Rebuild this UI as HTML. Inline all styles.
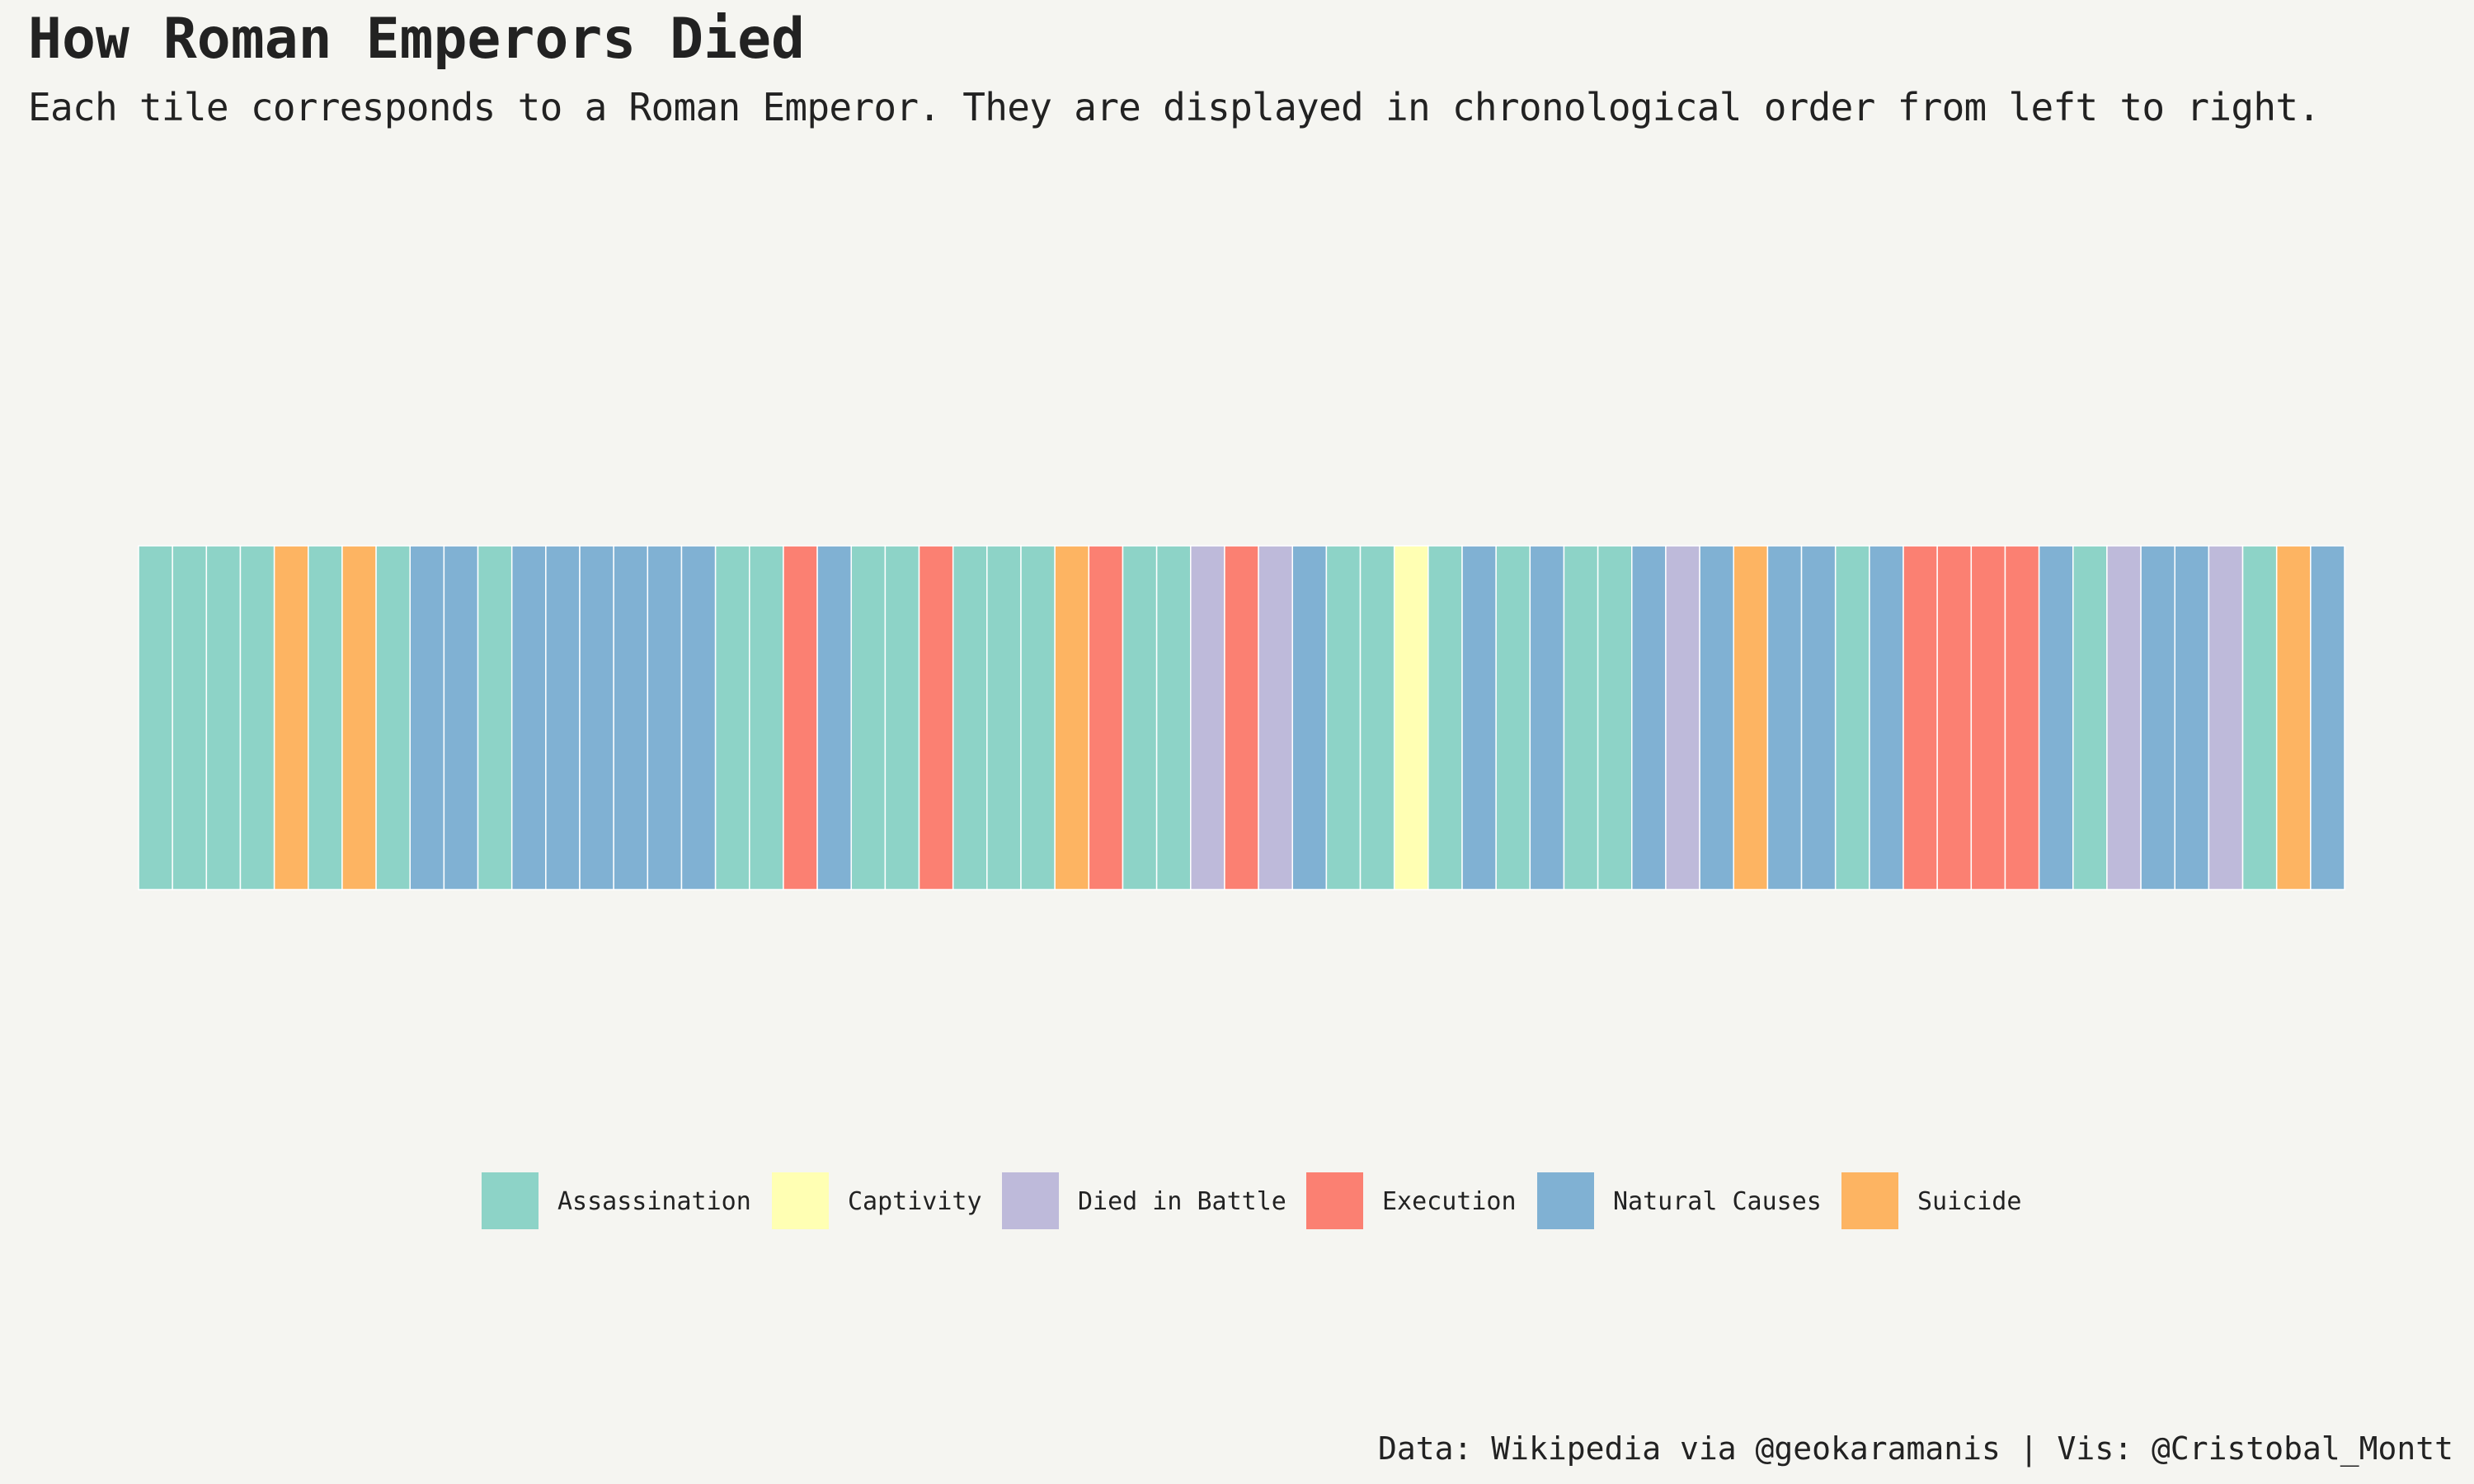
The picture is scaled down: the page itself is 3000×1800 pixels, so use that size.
<!DOCTYPE html>
<html><head><meta charset="utf-8"><style>
html,body{margin:0;padding:0;background:#f5f5f1;}
svg{display:block;font-family:"DejaVu Sans Mono","Liberation Mono",monospace;}
</style></head><body>
<svg id="chart" width="3000" height="1800" viewBox="0 0 3000 1800">
<rect x="0" y="0" width="3000" height="1800" fill="#f5f5f1"/>
<text x="34" y="70" font-size="68" font-weight="bold" fill="#222" textLength="942">How Roman Emperors Died</text>
<text x="34" y="146" font-size="46" fill="#222" textLength="2780">Each tile corresponds to a Roman Emperor. They are displayed in chronological order from left to right.</text>
<g id="tiles"></g>
<g id="legend"></g>
<text x="2975" y="1770" font-size="38" fill="#222" text-anchor="end">Data: Wikipedia via @geokaramanis | Vis: @Cristobal_Montt</text>
</svg>
<script>
const categories = ["Assassination","Captivity","Died in Battle","Execution","Natural Causes","Suicide"];
const causes = ["A","A","A","A","S","A","S","A","N","N","A","N","N","N","N","N","N",
"A","A","E","N","A","A","E","A","A","A","S","E","A","A","D","E","D",
"N","A","A","C","A","N","A","N","A","A","N","D","N","S","N","N","A","N","E","E","E","E","N","A","D","N","N","D","A","S","N"];
const codeMap = {A:"Assassination",C:"Captivity",D:"Died in Battle",E:"Execution",N:"Natural Causes",S:"Suicide"};
const colors = {"Assassination":"#8DD3C7","Captivity":"#FFFFB3","Died in Battle":"#BEBADA","Execution":"#FB8072","Natural Causes":"#80B1D3","Suicide":"#FDB462"};
const NS="http://www.w3.org/2000/svg";
const x0=168,x1=2843,y0=662,y1=1079;
const tw=(x1-x0)/causes.length;
const xScale=i=>x0+i*tw;
const tg=document.getElementById('tiles');
causes.forEach((c,i)=>{
  const r=document.createElementNS(NS,'rect');
  r.setAttribute('x',xScale(i));r.setAttribute('y',y0);
  r.setAttribute('width',tw);r.setAttribute('height',y1-y0);
  r.setAttribute('fill',colors[codeMap[c]]);
  r.setAttribute('stroke','#ffffff');r.setAttribute('stroke-width','1.5');
  
  
  tg.appendChild(r);
});
const lg=document.getElementById('legend');
const keyX=[584,936,1215,1584,1864,2233];
categories.forEach((c,i)=>{
  const g=document.createElementNS(NS,'g');
  
  
  const r=document.createElementNS(NS,'rect');
  r.setAttribute('x',keyX[i]);r.setAttribute('y',1422);r.setAttribute('width',69);r.setAttribute('height',69);
  r.setAttribute('fill',colors[c]);
  
  
  const t=document.createElementNS(NS,'text');
  t.setAttribute('x',keyX[i]+92);t.setAttribute('y',1467);t.setAttribute('font-size','30');t.setAttribute('fill','#222');
  t.textContent=c;
  
  
  g.appendChild(r);g.appendChild(t);lg.appendChild(g);
});
</script>
</body></html>
